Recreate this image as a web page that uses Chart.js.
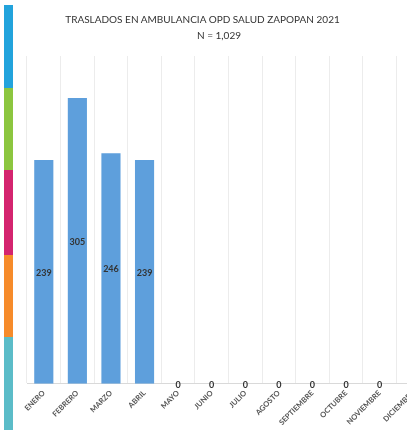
<!DOCTYPE html>
<html>
<head>
<meta charset="utf-8">
<script src="https://cdn.jsdelivr.net/npm/chart.js@4"></script>
<style>
  html, body { margin: 0; padding: 0; background: #fff; overflow: hidden; }
  body { width: 407px; height: 435px; position: relative; font-family: Lato, "Open Sans", sans-serif; }
  #wrap { position: absolute; left: 0; top: 0; width: 430px; height: 435px; }
  .strip { position: absolute; left: 4px; width: 9px; }
  .ttl { position: absolute; white-space: nowrap; color: #333; font-size: 10px; }
</style>
</head>
<body>
<!-- decorative colour band at the left edge -->
<div class="strip" style="top:5px;height:83px;background:#22a3dc"></div>
<div class="strip" style="top:88px;height:82px;background:#8cc63f"></div>
<div class="strip" style="top:170px;height:85px;background:#d4246f"></div>
<div class="strip" style="top:255px;height:82px;background:#f68b2a"></div>
<div class="strip" style="top:337px;height:93px;background:#5bbcc8"></div>

<div id="wrap"><canvas id="chart"></canvas></div>
<div class="ttl" style="left:50px;top:13px;width:305px;text-align:center">TRASLADOS EN AMBULANCIA OPD SALUD ZAPOPAN 2021</div>
<div class="ttl" style="left:170px;top:29px;width:98px;text-align:center">N = 1,029</div>

<script>
// traslados por mes, 2021
const months = ['ENERO', 'FEBRERO', 'MARZO', 'ABRIL', 'MAYO', 'JUNIO', 'JULIO',
                'AGOSTO', 'SEPTIEMBRE', 'OCTUBRE', 'NOVIEMBRE', 'DICIEMBRE'];
const traslados = [239, 305, 246, 239, 0, 0, 0, 0, 0, 0, 0, 0];
const yMax = 350;

// value labels in the middle of each bar (like Excel "center")
const centerLabels = {
  id: 'centerLabels',
  afterDatasetsDraw(chart) {
    const ctx = chart.ctx;
    const meta = chart.getDatasetMeta(0);
    ctx.save();
    ctx.font = 'bold 9px Lato, sans-serif';
    ctx.fillStyle = '#333';
    ctx.textAlign = 'center';
    ctx.textBaseline = 'middle';
    meta.data.forEach((bar, i) => {
      const p = bar.getCenterPoint();
      ctx.fillText(String(traslados[i]), p.x, p.y + 1);
    });
    ctx.restore();
  }
};

new Chart(document.getElementById('chart'), {
  type: 'bar',
  data: {
    labels: months,
    datasets: [{ data: traslados, backgroundColor: '#5e9fdc', barPercentage: 0.57, categoryPercentage: 1 }]
  },
  options: {
    responsive: true,
    maintainAspectRatio: false,
    animation: false,
    layout: { padding: { top: 56, left: 27, right: 0, bottom: 3 } },
    plugins: { legend: { display: false }, tooltip: { enabled: false } },
    scales: {
      x: {
        grid: { color: '#ececec', drawTicks: false },
        border: { color: '#d9d9d9' },
        ticks: { color: '#555', font: { size: 7.5, weight: 'bold', family: 'Lato, sans-serif' }, maxRotation: 45, minRotation: 45, padding: 5 }
      },
      y: { display: false, min: 0, max: yMax }
    }
  },
  plugins: [centerLabels]
});
</script>
</body>
</html>
